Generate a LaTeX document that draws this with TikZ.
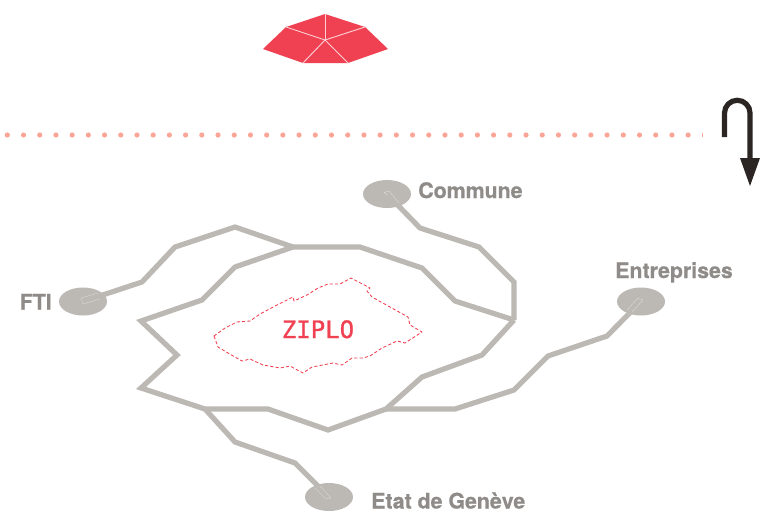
\documentclass[tikz,border=0pt]{standalone}
\usepackage{fontspec}
\usetikzlibrary{shapes.geometric}
\setmainfont[BoldFeatures={RawFeature={embolden=0.6}}]{TeX Gyre Heros}
\newfontfamily\ziplofont[RawFeature={embolden=1.0}]{DejaVu Sans Mono}
\definecolor{stone}{HTML}{BCB8B4}
\definecolor{labelgrey}{HTML}{8E8B88}
\definecolor{zred}{HTML}{F04152}
\definecolor{dotpink}{HTML}{FBA596}
\definecolor{arrowdark}{HTML}{2B2623}
\tikzset{
  wire/.style={draw=stone,line width=3.9pt,line join=miter,miter limit=4},
  hub/.style={ellipse,fill=stone,draw=none,minimum width=36pt,minimum height=21pt,inner sep=0pt},
  seam/.style={draw=white!60!stone,line width=0.2pt},
  lbl/.style={text=labelgrey,font=\fontsize{16}{18}\selectfont\bfseries,inner sep=0pt,anchor=base west},
  gem/.style={fill=zred,draw=none},
  gemline/.style={draw=white!75!zred,line width=0.7pt},
}
\begin{document}
\begin{tikzpicture}[x=0.75pt,y=-0.75pt]
\useasboundingbox (0,0) rectangle (766,522);
% gem
\coordinate (g0) at (325,40);
\coordinate (g1) at (325,14);
\coordinate (g2) at (365,27);
\coordinate (g3) at (388,49);
\coordinate (g4) at (348,63);
\coordinate (g5) at (303,63);
\coordinate (g6) at (263,49);
\coordinate (g7) at (286,27);
\fill[gem] (g1)--(g2)--(g3)--(g4)--(g5)--(g6)--(g7)--cycle;
\foreach \p in {g1,g2,g4,g5,g7} \draw[gemline] (g0)--(\p);
% dotted line
\foreach \i in {0,...,42} \fill[dotpink] ({7.3+16.21*\i},135) circle (1.95pt);
\fill[dotpink] (702,133)rectangle(703,137);
% turn arrow
\coordinate (a0) at (724.5,137);
\coordinate (a1) at (750,160);
\draw[arrowdark,line width=3.9pt] (a0) -- (724.5,113) arc[start angle=180,end angle=0,x radius=12.75,y radius=-12.75] -- (a1);
\fill[arrowdark] (740,158)--(760,158)--(750,186)--cycle;
% hubs
\node[hub] (commune) at (387,194) {};
\node[hub] (fti) at (83,301.5) {};
\node[hub] (entreprises) at (641,301.5) {};
\node[hub] (etat) at (329,497) {};
% junctions
\coordinate (jE) at (514,320);
\coordinate (jN) at (293,247);
\coordinate (jS) at (386,409);
\coordinate (jW) at (205,409);
% ring
\draw[wire] (jE)--(482,355)--(422,377)--(jS)--(328,430)--(268,409)--(jW)--(141,388)--(177,355)--(141,321)--(202,300)--(235,267)--(jN)--(360,247)--(422,268)--(455,301)--(jE);
% spurs
\draw[wire] (commune.center)--(420,228)--(479,247)--(514,282)--(jE);
\draw[wire] (fti.center)--(142,282)--(175,247)--(235,227)--(jN);
\draw[wire] (entreprises.center)--(607,336)--(548,356)--(514,390)--(455,409)--(jS);
\draw[wire] (etat.center)--(295,463)--(235,442)--(jW);
\draw[stone,line width=1pt] (514,282)--(jE);
% faint seams in hubs
\draw[seam] (388,195)--(384,192.5)--(389,191)--(399,203);
\draw[seam] (81,298)--(98,293);\draw[seam] (83,304)--(100,299);\draw[seam] (81,298)--(83,304);
\draw[seam] (643,300)--(632,312);\draw[seam] (638,298)--(627,310);\draw[seam] (638,298)--(643,300);
\draw[seam] (331,498)--(320,486);\draw[seam] (326,499)--(315,488);\draw[seam] (331,498)--(326,499);
% ZIPLO outline
\draw[zred,line width=0.65pt,dash pattern=on 2.4pt off 1.6pt,line join=round]
 (214,336)--(225,328)--(237,322)--(250,321)--(260,314)--(277,305)--(293,297)--(294,301)--(307,295)--(318,288)--(328,284)--(340,284)--(351,278)--(370,288)--(367,291)--(372,297)--(390,307)--(408,317)--(410,325)--(422,332)--(405,343)--(397,341)--(382,348)--(370,356)--(363,358)--(352,358)--(342,365)--(333,363)--(312,367)--(303,373)--(290,366)--(280,368)--(263,365)--(250,359)--(242,361)--(228,353)--(218,347)--cycle;
% labels
\node[lbl] (tcommune) at (418,198) {Commune};
\node[lbl] (tfti) at (19.5,309.5) {FTI};
\node[lbl] (tent) at (615,278) {Entreprises};
\node[lbl] (tetat) at (371,508.5) {Etat de Genève};
\node[text=zred,inner sep=0pt,anchor=base,font=\ziplofont\fontsize{18}{20}\selectfont] (zi) at (318,338) {ZIPLO};
\end{tikzpicture}
\end{document}
